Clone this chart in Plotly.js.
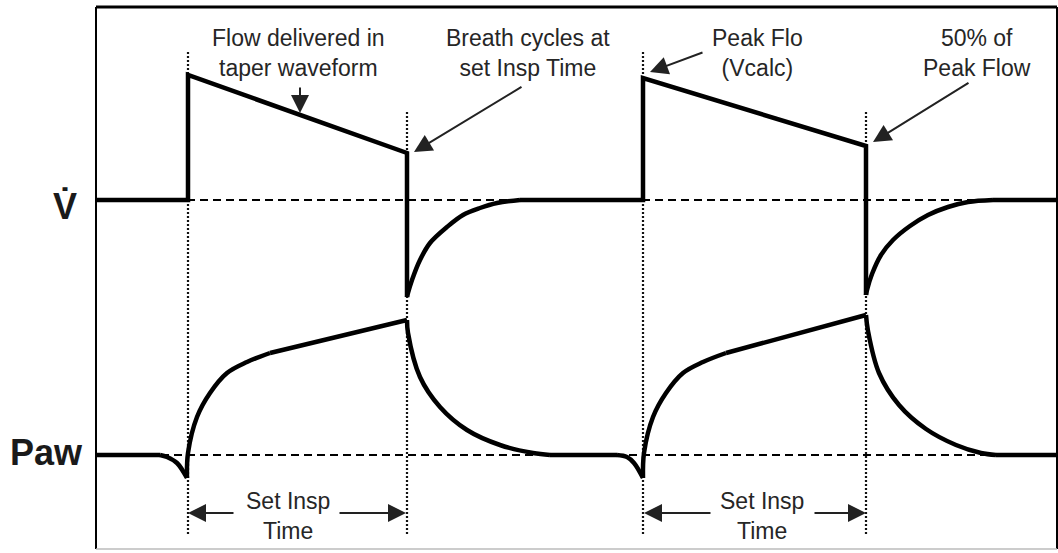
<!DOCTYPE html>
<html>
<head>
<meta charset="utf-8">
<script src="https://cdn.plot.ly/plotly-3.0.1.min.js"></script>
<style>html,body{margin:0;padding:0;background:#fff;}#chart{width:1058px;height:553px;}</style>
</head>
<body>
<div id="chart"></div>
<script>
// ---- Flow (V̇) signal, arbitrary units, time in arbitrary units ----
// straight parts (steps and taper ramps), null separates pieces
const flowLineT = [0, 92, 92, 311, 311, null, 424, 547, 547, 770, 770, null, 897, 961];
const flowLineV = [0, 0, 125, 47, -97, null, 0, 0, 122, 54, -95, null, 0, 0];
// exhalation recovery curves
const flowCurveT = [311, 312, 316, 324, 334, 351, 367, 384, 401, 424, null,
                    770, 771, 776, 785, 797, 814, 832, 852, 872, 897];
const flowCurveV = [-97, -93, -80, -60, -43, -27, -15, -8, -3, 0, null,
                    -95, -90, -74, -55, -40, -26, -15, -7, -2, 0];

// ---- Airway pressure (Paw) signal ----
const pawLineT = [0, 64, null, 174, 311, null, 454, 521, null, 630, 770, null, 900, 961];
const pawLineV = [0, 0, null, 102, 135, null, 0, 0, null, 102, 140, null, 0, 0];
const pawCurveT = [64, 71, 81, 91, null,
                   91, 92, 101, 114, 131, 151, 174, null,
                   311, 312, 324, 344, 371, 404, 437, 454, null,
                   521, 531, 538, 547, null,
                   547, 548, 557, 570, 587, 607, 630, null,
                   770, 772, 783, 803, 830, 860, 885, 900];
const pawCurveV = [0, -2, -8, -23, null,
                   -23, 2, 38, 62, 82, 93, 102, null,
                   135, 122, 78, 48, 25, 10, 2, 0, null,
                   0, -2, -8, -23, null,
                   -23, 2, 38, 62, 82, 93, 102, null,
                   140, 124, 82, 50, 26, 10, 2, 0];

// breath timing markers
const breathStart = [92, 547];
const breathEnd = [311, 770];

const signalLabels = ['V\u0307', 'Paw'];
const noteTexts = ['Flow delivered in<br>taper waveform', 'Breath cycles at<br>set Insp Time',
                   'Peak Flo<br>(Vcalc)', '50% of<br>Peak Flow', 'Set Insp<br>Time'];

// ---- layout helpers (pixel -> paper) ----
const PLOT_TOP = 7, PLOT_BOTTOM = 549, PLOT_LEFT = 96, PLOT_RIGHT = 1057;
function py(p) { return (PLOT_BOTTOM - p) / (PLOT_BOTTOM - PLOT_TOP); }
function pxData(p) { return p - PLOT_LEFT; }
function pxPaper(p) { return (p - PLOT_LEFT) / (PLOT_RIGHT - PLOT_LEFT); }

const black = '#000';
const lineStyle = {color: black, width: 4.5};
const traces = [
  {x: flowLineT, y: flowLineV, mode: 'lines', line: Object.assign({}, lineStyle), connectgaps: false, hoverinfo: 'skip', yaxis: 'y'},
  {x: flowCurveT, y: flowCurveV, mode: 'lines', line: Object.assign({shape: 'spline', smoothing: 1}, lineStyle), connectgaps: false, hoverinfo: 'skip', yaxis: 'y'},
  {x: pawLineT, y: pawLineV, mode: 'lines', line: Object.assign({}, lineStyle), connectgaps: false, hoverinfo: 'skip', yaxis: 'y2'},
  {x: pawCurveT, y: pawCurveV, mode: 'lines', line: Object.assign({shape: 'spline', smoothing: 1}, lineStyle), connectgaps: false, hoverinfo: 'skip', yaxis: 'y2'}
];

const shapes = [];
// dashed baselines
shapes.push({type: 'line', xref: 'paper', yref: 'y', x0: 0, x1: 1, y0: 0, y1: 0, layer: 'below', line: {color: black, width: 2, dash: '8px,5px'}});
shapes.push({type: 'line', xref: 'paper', yref: 'y2', x0: 0, x1: 1, y0: 0, y1: 0, layer: 'below', line: {color: black, width: 2, dash: '8px,5px'}});
// dotted vertical markers
breathStart.forEach(t => shapes.push({type: 'line', xref: 'x', yref: 'paper', x0: t, x1: t, y0: py(52), y1: py(535), layer: 'below', line: {color: '#111', width: 2.2, dash: '2px,2px'}}));
breathEnd.forEach(t => shapes.push({type: 'line', xref: 'x', yref: 'paper', x0: t, x1: t, y0: py(112), y1: py(535), layer: 'below', line: {color: '#111', width: 2.2, dash: '2px,2px'}}));
// frame
shapes.push({type: 'line', xref: 'paper', yref: 'paper', x0: 0, x1: 1, y0: 1, y1: 1, line: {color: black, width: 3}});
shapes.push({type: 'line', xref: 'paper', yref: 'paper', x0: 0, x1: 0, y0: 0, y1: 1, line: {color: black, width: 2}});
shapes.push({type: 'line', xref: 'paper', yref: 'paper', x0: 1, x1: 1, y0: 0, y1: 1, line: {color: black, width: 2}});
shapes.push({type: 'line', xref: 'paper', yref: 'paper', x0: 0, x1: 1, y0: 0, y1: 0, line: {color: '#bbb', width: 1.5}});

const txtFont = {family: 'Liberation Sans, Arial, sans-serif', size: 23, color: '#262626'};
const ann = [];
function note(text, cx, cy) {
  ann.push({text: text, x: pxData(cx), y: py(cy), xref: 'x', yref: 'paper', showarrow: false, xanchor: 'center', yanchor: 'middle', font: txtFont, align: 'center'});
}
note(noteTexts[0], 298, 53);
note(noteTexts[1], 528, 53);
note(noteTexts[2], 757, 53);
note(noteTexts[3], 977, 53);
note(noteTexts[4], 288, 516);
note(noteTexts[4], 762, 516);

function arrow(tailX, tailY, tipX, tipY) {
  ann.push({text: '', x: pxData(tipX), y: py(tipY), xref: 'x', yref: 'paper', ax: tailX - tipX, ay: tailY - tipY, axref: 'pixel', ayref: 'pixel',
    showarrow: true, arrowhead: 2, arrowsize: 1.8, arrowwidth: 2, arrowcolor: '#222', standoff: 0, startstandoff: 0});
}
arrow(300, 86, 300, 113);
arrow(523, 86, 414, 152);
arrow(704, 52, 650, 72);
arrow(970, 82, 873, 142);
arrow(235, 513, 188, 513);
arrow(338, 513, 406, 513);
arrow(712, 513, 644, 513);
arrow(813, 513, 866, 513);

const labFont = {family: 'Liberation Sans, Arial, sans-serif', size: 36, color: '#1a1a1a', weight: 'bold'};
ann.push({text: signalLabels[0], xref: 'paper', yref: 'paper', x: pxPaper(65), y: py(206), xanchor: 'center', yanchor: 'middle', showarrow: false, font: labFont});
ann.push({text: signalLabels[1], xref: 'paper', yref: 'paper', x: pxPaper(46), y: py(452), xanchor: 'center', yanchor: 'middle', showarrow: false, font: labFont});

const hidden = {showgrid: false, zeroline: false, showticklabels: false, showline: false, ticks: '', fixedrange: true};
const layout = {
  width: 1058, height: 553,
  margin: {l: 96, r: 1, t: 7, b: 4, pad: 0},
  paper_bgcolor: '#fff', plot_bgcolor: '#fff',
  showlegend: false,
  xaxis: Object.assign({range: [0, 961]}, hidden),
  yaxis: Object.assign({range: [-349, 193]}, hidden),
  yaxis2: Object.assign({range: [-94, 448], overlaying: 'y'}, hidden),
  shapes: shapes,
  annotations: ann
};
Plotly.newPlot('chart', traces, layout, {staticPlot: true, displayModeBar: false});
</script>
</body>
</html>
